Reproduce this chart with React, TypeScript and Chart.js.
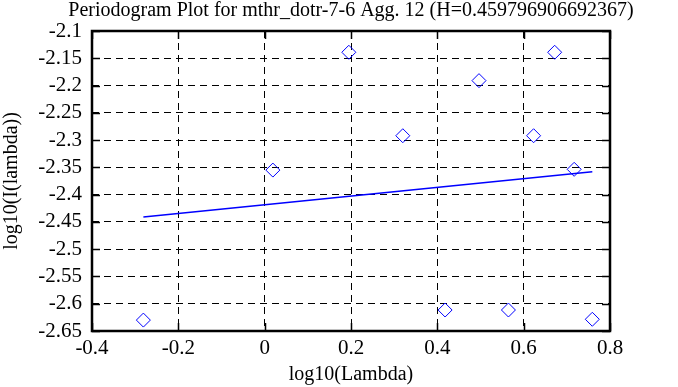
import React, { useEffect, useRef } from "react";
import { Chart, registerables } from "chart.js";

Chart.register(...registerables);

const TITLE = "Periodogram Plot for mthr_dotr-7-6 Agg. 12 (H=0.459796906692367)";
const X_TITLE = "log10(Lambda)";
const Y_TITLE = "log10(I(lambda))";

const pointX = [-0.281, 0.019, 0.195, 0.32, 0.418, 0.4965, 0.5647, 0.623, 0.6718, 0.717, 0.759];
const pointY = [-2.63, -2.355, -2.139, -2.292, -2.6115, -2.191, -2.6115, -2.292, -2.139, -2.3536, -2.6285];

const fitX = [-0.281, 0.759];
const fitY = [-2.441, -2.358];

const xTicks = [-0.4, -0.2, 0, 0.2, 0.4, 0.6, 0.8];
const yTicks = [-2.1, -2.15, -2.2, -2.25, -2.3, -2.35, -2.4, -2.45, -2.5, -2.55, -2.6, -2.65];

const FONT = "'Liberation Serif', 'DejaVu Serif', serif";

const titlePlugin = {
  id: "plotTitle",
  afterDraw(chart: any) {
    const { ctx, chartArea } = chart;
    ctx.save();
    ctx.font = `20px ${FONT}`;
    ctx.fillStyle = "#000";
    ctx.textAlign = "center";
    ctx.textBaseline = "middle";
    ctx.fillText(TITLE, (chartArea.left + chartArea.right) / 2, 11);
    ctx.restore();
  },
};

const framePlugin = {
  id: "frame",
  afterDatasetsDraw(chart: any) {
    const { ctx, chartArea } = chart;
    const { left, right, top, bottom } = chartArea;
    const xs = chart.scales.x;
    const ys = chart.scales.y;
    ctx.save();
    ctx.strokeStyle = "#000";
    ctx.lineWidth = 1.5;
    ctx.setLineDash([]);
    const tl = 8;
    ctx.beginPath();
    xTicks.forEach((v) => {
      const px = Math.round(xs.getPixelForValue(v)) + 0.5;
      ctx.moveTo(px, top);
      ctx.lineTo(px, top + tl);
      ctx.moveTo(px, bottom);
      ctx.lineTo(px, bottom - tl);
    });
    yTicks.forEach((v) => {
      const py = Math.round(ys.getPixelForValue(v)) + 0.5;
      ctx.moveTo(left, py);
      ctx.lineTo(left + tl, py);
      ctx.moveTo(right, py);
      ctx.lineTo(right - tl, py);
    });
    ctx.stroke();
    ctx.lineWidth = 2.5;
    ctx.strokeRect(left, top, right - left, bottom - top);
    ctx.restore();
  },
};

export default function App() {
  const ref = useRef<HTMLCanvasElement | null>(null);
  useEffect(() => {
    document.body.style.margin = "0";
    const canvas = ref.current!;
    const chart = new Chart(canvas, {
      type: "scatter",
      data: {
        datasets: [
          {
            type: "scatter",
            data: pointX.map((x, i) => ({ x, y: pointY[i] })),
            pointStyle: "rectRot",
            pointRadius: 7,
            pointBorderWidth: 1,
            pointBorderColor: "#0000ff",
            pointBackgroundColor: "rgba(255,255,255,0)",
          },
          {
            type: "line",
            data: fitX.map((x, i) => ({ x, y: fitY[i] })),
            borderColor: "#0000ff",
            borderWidth: 1.6,
            pointRadius: 0,
            fill: false,
          } as any,
        ],
      },
      options: {
        animation: false,
        responsive: false,
        layout: { padding: { left: 0, right: 68, top: 31, bottom: 0 } },
        plugins: {
          legend: { display: false },
          tooltip: { enabled: false },
          title: { display: false },
        },
        scales: {
          x: {
            type: "linear",
            min: -0.4,
            max: 0.8,
            afterBuildTicks: (s: any) => {
              s.ticks = xTicks.map((v) => ({ value: v }));
            },
            afterFit: (s: any) => {
              s.height = 56;
            },
            ticks: {
              color: "#000",
              font: { family: FONT, size: 21 },
              padding: 5,
              maxRotation: 0,
              autoSkip: false,
              callback: (v: any) => String(Number(Number(v).toFixed(2))),
            },
            grid: {
              color: "#000",
              lineWidth: 1,
              drawTicks: false,
            },
            border: { display: false, dash: [7, 5] },
            title: {
              display: true,
              text: X_TITLE,
              color: "#000",
              font: { family: FONT, size: 20 },
              padding: { top: 0, bottom: 0 },
            },
          },
          y: {
            type: "linear",
            min: -2.65,
            max: -2.1,
            afterBuildTicks: (s: any) => {
              s.ticks = yTicks.map((v) => ({ value: v }));
            },
            afterFit: (s: any) => {
              s.width = 92;
            },
            ticks: {
              color: "#000",
              font: { family: FONT, size: 21 },
              padding: 10,
              autoSkip: false,
              callback: (v: any) => String(Number(Number(v).toFixed(2))),
            },
            grid: {
              color: "#000",
              lineWidth: 1,
              drawTicks: false,
            },
            border: { display: false, dash: [7, 5] },
            title: {
              display: true,
              text: Y_TITLE,
              color: "#000",
              font: { family: FONT, size: 20 },
              padding: { top: 0, bottom: 0 },
            },
          },
        },
      },
      plugins: [framePlugin, titlePlugin],
    });
    return () => chart.destroy();
  }, []);
  return <canvas ref={ref} width={678} height={387} style={{ display: "block" }} />;
}
